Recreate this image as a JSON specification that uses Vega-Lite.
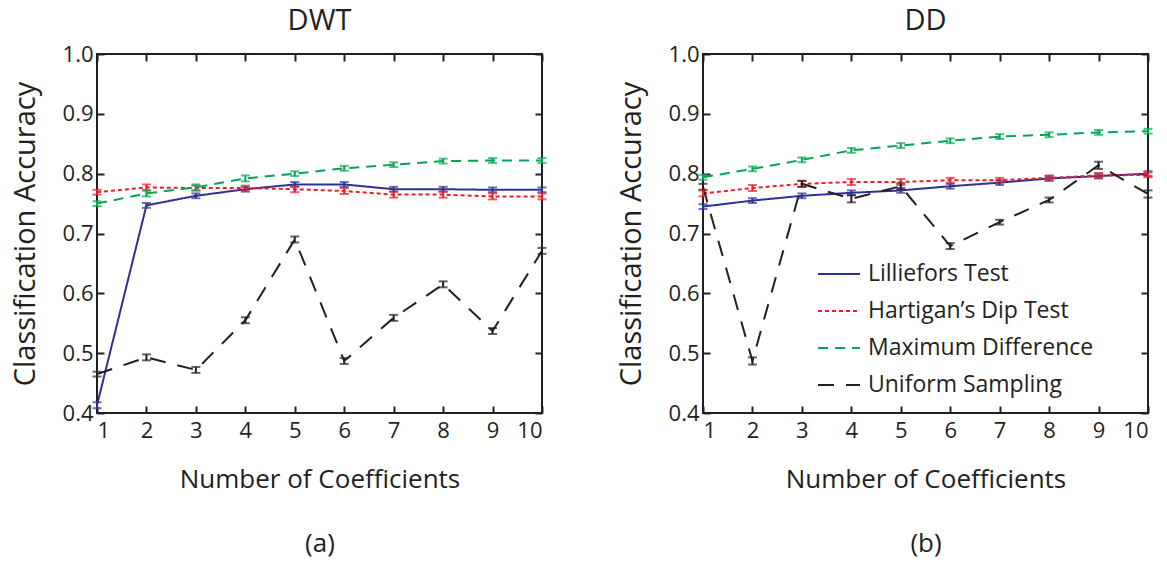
{
  "$schema": "https://vega.github.io/schema/vega-lite/v6.json",
  "padding": {"left": 10, "top": 6, "right": 10, "bottom": 4},
  "background": "white",
  "config": {
    "font": "Open Sans",
    "view": {"stroke": "#231f20", "strokeWidth": 2},
    "axis": {"grid": false, "domain": false, "tickColor": "#231f20", "tickWidth": 2, "tickSize": -7, "labelFontSize": 22, "labelColor": "#231f20", "titleColor": "#231f20", "titleFontWeight": "normal", "labelFont": "Open Sans", "titleFont": "Open Sans"},
    "title": {"fontSize": 29, "fontWeight": "normal", "color": "#231f20", "font": "Open Sans", "offset": 7},
    "concat": {"spacing": 161}
  },
  "bounds": "flush",
  "datasets": {
    "acc": [
      {"panel": "DWT", "method": "Lilliefors Test", "x": 1, "acc": 0.413, "err": 0.005},
      {"panel": "DWT", "method": "Lilliefors Test", "x": 2, "acc": 0.747, "err": 0.004},
      {"panel": "DWT", "method": "Lilliefors Test", "x": 3, "acc": 0.763, "err": 0.004},
      {"panel": "DWT", "method": "Lilliefors Test", "x": 4, "acc": 0.774, "err": 0.004},
      {"panel": "DWT", "method": "Lilliefors Test", "x": 5, "acc": 0.782, "err": 0.004},
      {"panel": "DWT", "method": "Lilliefors Test", "x": 6, "acc": 0.782, "err": 0.004},
      {"panel": "DWT", "method": "Lilliefors Test", "x": 7, "acc": 0.774, "err": 0.004},
      {"panel": "DWT", "method": "Lilliefors Test", "x": 8, "acc": 0.774, "err": 0.004},
      {"panel": "DWT", "method": "Lilliefors Test", "x": 9, "acc": 0.773, "err": 0.004},
      {"panel": "DWT", "method": "Lilliefors Test", "x": 10, "acc": 0.773, "err": 0.004},
      {"panel": "DWT", "method": "Hartigan’s Dip Test", "x": 1, "acc": 0.769, "err": 0.004},
      {"panel": "DWT", "method": "Hartigan’s Dip Test", "x": 2, "acc": 0.777, "err": 0.005},
      {"panel": "DWT", "method": "Hartigan’s Dip Test", "x": 3, "acc": 0.776, "err": 0.004},
      {"panel": "DWT", "method": "Hartigan’s Dip Test", "x": 4, "acc": 0.776, "err": 0.004},
      {"panel": "DWT", "method": "Hartigan’s Dip Test", "x": 5, "acc": 0.774, "err": 0.005},
      {"panel": "DWT", "method": "Hartigan’s Dip Test", "x": 6, "acc": 0.771, "err": 0.005},
      {"panel": "DWT", "method": "Hartigan’s Dip Test", "x": 7, "acc": 0.765, "err": 0.005},
      {"panel": "DWT", "method": "Hartigan’s Dip Test", "x": 8, "acc": 0.765, "err": 0.005},
      {"panel": "DWT", "method": "Hartigan’s Dip Test", "x": 9, "acc": 0.762, "err": 0.005},
      {"panel": "DWT", "method": "Hartigan’s Dip Test", "x": 10, "acc": 0.762, "err": 0.005},
      {"panel": "DWT", "method": "Maximum Difference", "x": 1, "acc": 0.750, "err": 0.004},
      {"panel": "DWT", "method": "Maximum Difference", "x": 2, "acc": 0.767, "err": 0.005},
      {"panel": "DWT", "method": "Maximum Difference", "x": 3, "acc": 0.777, "err": 0.005},
      {"panel": "DWT", "method": "Maximum Difference", "x": 4, "acc": 0.792, "err": 0.005},
      {"panel": "DWT", "method": "Maximum Difference", "x": 5, "acc": 0.800, "err": 0.004},
      {"panel": "DWT", "method": "Maximum Difference", "x": 6, "acc": 0.809, "err": 0.004},
      {"panel": "DWT", "method": "Maximum Difference", "x": 7, "acc": 0.815, "err": 0.004},
      {"panel": "DWT", "method": "Maximum Difference", "x": 8, "acc": 0.821, "err": 0.004},
      {"panel": "DWT", "method": "Maximum Difference", "x": 9, "acc": 0.822, "err": 0.004},
      {"panel": "DWT", "method": "Maximum Difference", "x": 10, "acc": 0.822, "err": 0.004},
      {"panel": "DWT", "method": "Uniform Sampling", "x": 1, "acc": 0.465, "err": 0.004},
      {"panel": "DWT", "method": "Uniform Sampling", "x": 2, "acc": 0.493, "err": 0.005},
      {"panel": "DWT", "method": "Uniform Sampling", "x": 3, "acc": 0.472, "err": 0.005},
      {"panel": "DWT", "method": "Uniform Sampling", "x": 4, "acc": 0.555, "err": 0.005},
      {"panel": "DWT", "method": "Uniform Sampling", "x": 5, "acc": 0.690, "err": 0.005},
      {"panel": "DWT", "method": "Uniform Sampling", "x": 6, "acc": 0.487, "err": 0.005},
      {"panel": "DWT", "method": "Uniform Sampling", "x": 7, "acc": 0.559, "err": 0.005},
      {"panel": "DWT", "method": "Uniform Sampling", "x": 8, "acc": 0.615, "err": 0.005},
      {"panel": "DWT", "method": "Uniform Sampling", "x": 9, "acc": 0.537, "err": 0.005},
      {"panel": "DWT", "method": "Uniform Sampling", "x": 10, "acc": 0.671, "err": 0.005},
      {"panel": "DD", "method": "Lilliefors Test", "x": 1, "acc": 0.745, "err": 0.004},
      {"panel": "DD", "method": "Lilliefors Test", "x": 2, "acc": 0.755, "err": 0.004},
      {"panel": "DD", "method": "Lilliefors Test", "x": 3, "acc": 0.763, "err": 0.004},
      {"panel": "DD", "method": "Lilliefors Test", "x": 4, "acc": 0.768, "err": 0.004},
      {"panel": "DD", "method": "Lilliefors Test", "x": 5, "acc": 0.772, "err": 0.004},
      {"panel": "DD", "method": "Lilliefors Test", "x": 6, "acc": 0.779, "err": 0.004},
      {"panel": "DD", "method": "Lilliefors Test", "x": 7, "acc": 0.785, "err": 0.004},
      {"panel": "DD", "method": "Lilliefors Test", "x": 8, "acc": 0.792, "err": 0.004},
      {"panel": "DD", "method": "Lilliefors Test", "x": 9, "acc": 0.796, "err": 0.004},
      {"panel": "DD", "method": "Lilliefors Test", "x": 10, "acc": 0.800, "err": 0.004},
      {"panel": "DD", "method": "Hartigan’s Dip Test", "x": 1, "acc": 0.767, "err": 0.005},
      {"panel": "DD", "method": "Hartigan’s Dip Test", "x": 2, "acc": 0.776, "err": 0.005},
      {"panel": "DD", "method": "Hartigan’s Dip Test", "x": 3, "acc": 0.783, "err": 0.005},
      {"panel": "DD", "method": "Hartigan’s Dip Test", "x": 4, "acc": 0.786, "err": 0.005},
      {"panel": "DD", "method": "Hartigan’s Dip Test", "x": 5, "acc": 0.786, "err": 0.005},
      {"panel": "DD", "method": "Hartigan’s Dip Test", "x": 6, "acc": 0.789, "err": 0.004},
      {"panel": "DD", "method": "Hartigan’s Dip Test", "x": 7, "acc": 0.789, "err": 0.004},
      {"panel": "DD", "method": "Hartigan’s Dip Test", "x": 8, "acc": 0.793, "err": 0.004},
      {"panel": "DD", "method": "Hartigan’s Dip Test", "x": 9, "acc": 0.797, "err": 0.004},
      {"panel": "DD", "method": "Hartigan’s Dip Test", "x": 10, "acc": 0.798, "err": 0.004},
      {"panel": "DD", "method": "Maximum Difference", "x": 1, "acc": 0.794, "err": 0.004},
      {"panel": "DD", "method": "Maximum Difference", "x": 2, "acc": 0.808, "err": 0.004},
      {"panel": "DD", "method": "Maximum Difference", "x": 3, "acc": 0.823, "err": 0.004},
      {"panel": "DD", "method": "Maximum Difference", "x": 4, "acc": 0.839, "err": 0.004},
      {"panel": "DD", "method": "Maximum Difference", "x": 5, "acc": 0.847, "err": 0.004},
      {"panel": "DD", "method": "Maximum Difference", "x": 6, "acc": 0.855, "err": 0.004},
      {"panel": "DD", "method": "Maximum Difference", "x": 7, "acc": 0.862, "err": 0.004},
      {"panel": "DD", "method": "Maximum Difference", "x": 8, "acc": 0.865, "err": 0.004},
      {"panel": "DD", "method": "Maximum Difference", "x": 9, "acc": 0.869, "err": 0.004},
      {"panel": "DD", "method": "Maximum Difference", "x": 10, "acc": 0.871, "err": 0.004},
      {"panel": "DD", "method": "Uniform Sampling", "x": 1, "acc": 0.778, "err": 0.005},
      {"panel": "DD", "method": "Uniform Sampling", "x": 2, "acc": 0.487, "err": 0.006},
      {"panel": "DD", "method": "Uniform Sampling", "x": 3, "acc": 0.783, "err": 0.005},
      {"panel": "DD", "method": "Uniform Sampling", "x": 4, "acc": 0.758, "err": 0.006},
      {"panel": "DD", "method": "Uniform Sampling", "x": 5, "acc": 0.779, "err": 0.005},
      {"panel": "DD", "method": "Uniform Sampling", "x": 6, "acc": 0.679, "err": 0.005},
      {"panel": "DD", "method": "Uniform Sampling", "x": 7, "acc": 0.719, "err": 0.004},
      {"panel": "DD", "method": "Uniform Sampling", "x": 8, "acc": 0.756, "err": 0.004},
      {"panel": "DD", "method": "Uniform Sampling", "x": 9, "acc": 0.814, "err": 0.006},
      {"panel": "DD", "method": "Uniform Sampling", "x": 10, "acc": 0.766, "err": 0.006}
    ]
  },
  "resolve": {"scale": {"color": "independent", "strokeDash": "independent"}},
  "hconcat": [
    {
      "title": "DWT",
      "width": 445,
      "height": 359,
      "data": {"name": "acc"},
      "transform": [{"filter": "datum.panel === 'DWT'"}],
      "layer": [
        {
          "mark": {"type": "line", "strokeWidth": 2, "clip": true},
          "encoding": {
            "x": {"field": "x", "type": "quantitative", "scale": {"domain": [1, 10], "nice": false}, "axis": {"orient": "bottom", "values": [1,2,3,4,5,6,7,8,9,10], "title": ["Number of Coefficients", "(a)"], "titleFontSize": 26, "titleLineHeight": 64, "titlePadding": 25, "labelPadding": 14}},
            "y": {"field": "acc", "type": "quantitative", "scale": {"domain": [0.4, 1.0], "nice": false, "zero": false}, "axis": {"orient": "left", "values": [0.4,0.5,0.6,0.7,0.8,0.9,1.0], "format": ".1f", "title": "Classification Accuracy", "titleFontSize": 29, "titlePadding": 22, "labelPadding": 11}},
            "color": {"field": "method", "type": "nominal", "scale": {"domain": ["Lilliefors Test", "Hartigan’s Dip Test", "Maximum Difference", "Uniform Sampling"], "range": ["#2e3192", "#ed1c24", "#00a651", "#231f20"]}, "legend": null},
            "strokeDash": {"field": "method", "type": "nominal", "scale": {"domain": ["Lilliefors Test", "Hartigan’s Dip Test", "Maximum Difference", "Uniform Sampling"], "range": [[1, 0], [4, 3], [10, 7], [16, 12]]}, "legend": null}
          }
        },
        {
          "mark": {"type": "errorbar", "ticks": {"size": 9}, "thickness": 2},
          "encoding": {
            "x": {"field": "x", "type": "quantitative", "scale": {"domain": [1, 10], "nice": false}, "axis": {"orient": "top", "values": [1,2,3,4,5,6,7,8,9,10], "labels": false, "title": null}},
            "y": {"field": "acc", "type": "quantitative", "scale": {"domain": [0.4, 1.0], "nice": false, "zero": false}, "axis": {"orient": "right", "values": [0.4,0.5,0.6,0.7,0.8,0.9,1.0], "labels": false, "title": null}},
            "yError": {"field": "err"},
            "color": {"field": "method", "type": "nominal", "legend": null}
          }
        }
      ],
      "resolve": {"axis": {"x": "independent", "y": "independent"}}
    },
    {
      "title": "DD",
      "width": 445,
      "height": 359,
      "data": {"name": "acc"},
      "transform": [{"filter": "datum.panel === 'DD'"}],
      "layer": [
        {
          "mark": {"type": "line", "strokeWidth": 2, "clip": true},
          "encoding": {
            "x": {"field": "x", "type": "quantitative", "scale": {"domain": [1, 10], "nice": false}, "axis": {"orient": "bottom", "values": [1,2,3,4,5,6,7,8,9,10], "title": ["Number of Coefficients", "(b)"], "titleFontSize": 26, "titleLineHeight": 64, "titlePadding": 25, "labelPadding": 14}},
            "y": {"field": "acc", "type": "quantitative", "scale": {"domain": [0.4, 1.0], "nice": false, "zero": false}, "axis": {"orient": "left", "values": [0.4,0.5,0.6,0.7,0.8,0.9,1.0], "format": ".1f", "title": "Classification Accuracy", "titleFontSize": 29, "titlePadding": 22, "labelPadding": 11}},
            "color": {"field": "method", "type": "nominal", "scale": {"domain": ["Lilliefors Test", "Hartigan’s Dip Test", "Maximum Difference", "Uniform Sampling"], "range": ["#2e3192", "#ed1c24", "#00a651", "#231f20"]}, "legend": {"orient": "none", "legendX": 114, "legendY": 198, "title": null, "labelFontSize": 23, "labelLimit": 400, "labelColor": "#231f20", "labelFont": "Open Sans", "symbolType": "stroke", "symbolSize": 1764, "symbolStrokeWidth": 2, "rowPadding": 3, "labelOffset": 7}},
            "strokeDash": {"field": "method", "type": "nominal", "scale": {"domain": ["Lilliefors Test", "Hartigan’s Dip Test", "Maximum Difference", "Uniform Sampling"], "range": [[1, 0], [4, 3], [10, 7], [16, 12]]}, "legend": {"orient": "none", "legendX": 114, "legendY": 198, "title": null, "labelFontSize": 23, "labelLimit": 400, "labelColor": "#231f20", "labelFont": "Open Sans", "symbolType": "stroke", "symbolSize": 1764, "symbolStrokeWidth": 2, "rowPadding": 3, "labelOffset": 7}}
          }
        },
        {
          "mark": {"type": "errorbar", "ticks": {"size": 9}, "thickness": 2},
          "encoding": {
            "x": {"field": "x", "type": "quantitative", "scale": {"domain": [1, 10], "nice": false}, "axis": {"orient": "top", "values": [1,2,3,4,5,6,7,8,9,10], "labels": false, "title": null}},
            "y": {"field": "acc", "type": "quantitative", "scale": {"domain": [0.4, 1.0], "nice": false, "zero": false}, "axis": {"orient": "right", "values": [0.4,0.5,0.6,0.7,0.8,0.9,1.0], "labels": false, "title": null}},
            "yError": {"field": "err"},
            "color": {"field": "method", "type": "nominal", "legend": null}
          }
        }
      ],
      "resolve": {"axis": {"x": "independent", "y": "independent"}}
    }
  ]
}
